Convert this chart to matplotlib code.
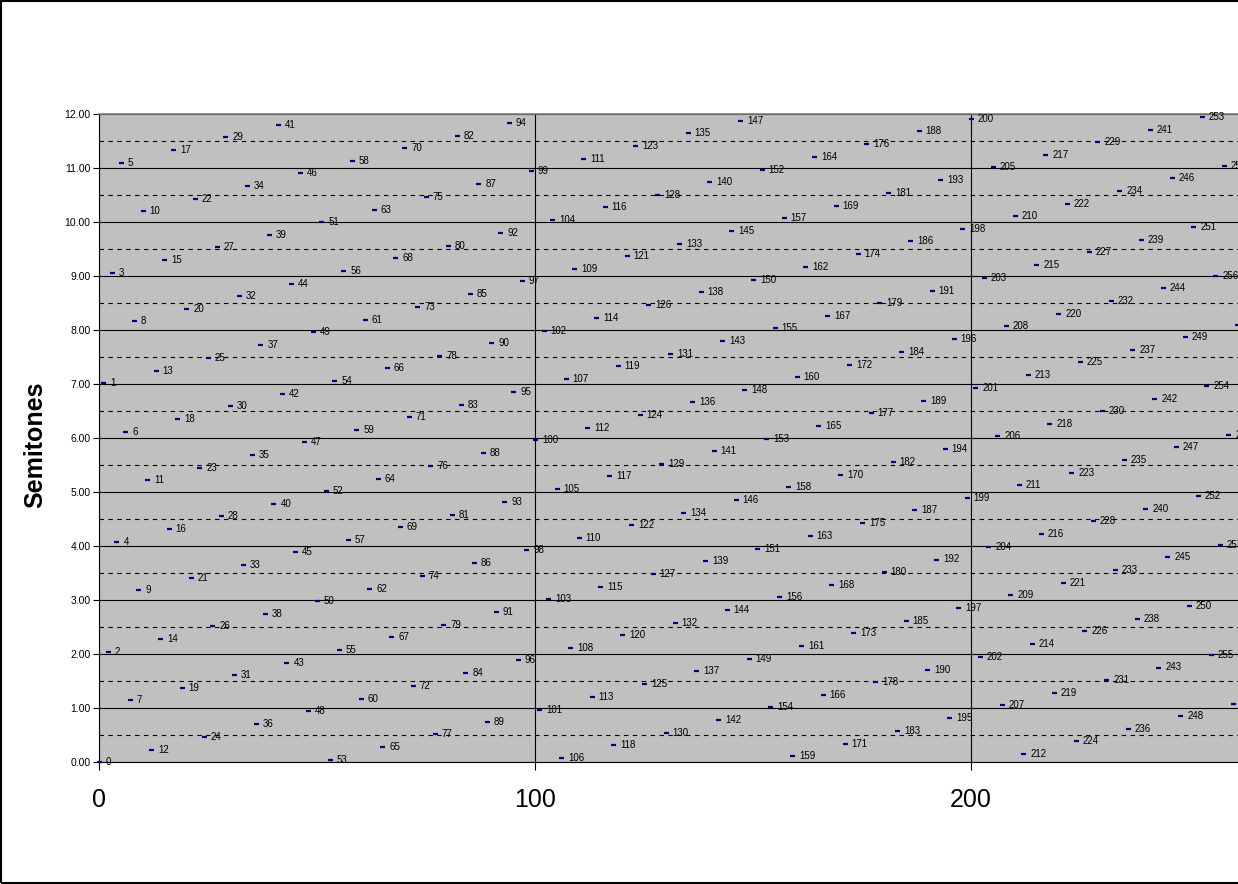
import numpy as np
import matplotlib
matplotlib.use('Agg')
import matplotlib.pyplot as plt
from matplotlib.patches import Rectangle

plt.rcParams['font.family'] = ['Liberation Sans', 'DejaVu Sans']

# step number of each point (label) and its position in semitones
steps = list(range(262))
semitones = [
    0.00, 7.02, 2.04, 9.06, 4.08, 11.10, 6.12, 1.14, 8.16, 3.18, 10.20, 5.22,
    0.23, 7.25, 2.27, 9.29, 4.31, 11.33, 6.35, 1.37, 8.39, 3.41, 10.43, 5.45,
    0.47, 7.49, 2.51, 9.53, 4.55, 11.57, 6.59, 1.61, 8.63, 3.65, 10.66, 5.68,
    0.70, 7.72, 2.74, 9.76, 4.78, 11.80, 6.82, 1.84, 8.86, 3.88, 10.90, 5.92,
    0.94, 7.96, 2.98, 10.00, 5.02, 0.04, 7.06, 2.08, 9.09, 4.11, 11.13, 6.15,
    1.17, 8.19, 3.21, 10.23, 5.25, 0.27, 7.29, 2.31, 9.33, 4.35, 11.37, 6.39,
    1.41, 8.43, 3.45, 10.47, 5.49, 0.51, 7.52, 2.54, 9.56, 4.58, 11.60, 6.62,
    1.64, 8.66, 3.68, 10.70, 5.72, 0.74, 7.76, 2.78, 9.80, 4.82, 11.84, 6.86,
    1.88, 8.90, 3.92, 10.94, 5.96, 0.97, 7.99, 3.01, 10.03, 5.05, 0.07, 7.09,
    2.11, 9.13, 4.15, 11.17, 6.19, 1.21, 8.23, 3.25, 10.27, 5.29, 0.31, 7.33,
    2.35, 9.37, 4.39, 11.40, 6.42, 1.44, 8.46, 3.48, 10.50, 5.52, 0.54, 7.56,
    2.58, 9.60, 4.62, 11.64, 6.66, 1.68, 8.70, 3.72, 10.74, 5.76, 0.78, 7.80,
    2.82, 9.83, 4.85, 11.87, 6.89, 1.91, 8.93, 3.95, 10.97, 5.99, 1.01, 8.03,
    3.05, 10.07, 5.09, 0.11, 7.13, 2.15, 9.17, 4.19, 11.21, 6.23, 1.25, 8.26,
    3.28, 10.30, 5.32, 0.34, 7.36, 2.38, 9.40, 4.42, 11.44, 6.46, 1.48, 8.50,
    3.52, 10.54, 5.56, 0.58, 7.60, 2.62, 9.64, 4.66, 11.68, 6.69, 1.71, 8.73,
    3.75, 10.77, 5.79, 0.81, 7.83, 2.85, 9.87, 4.89, 11.91, 6.93, 1.95, 8.97,
    3.99, 11.01, 6.03, 1.05, 8.07, 3.09, 10.11, 5.13, 0.14, 7.16, 2.18, 9.20,
    4.22, 11.24, 6.26, 1.28, 8.30, 3.32, 10.34, 5.36, 0.38, 7.40, 2.42, 9.44,
    4.46, 11.48, 6.50, 1.52, 8.54, 3.56, 10.57, 5.59, 0.61, 7.63, 2.65, 9.67,
    4.69, 11.71, 6.73, 1.75, 8.77, 3.79, 10.81, 5.83, 0.85, 7.87, 2.89, 9.91,
    4.93, 11.95, 6.97, 1.99, 9.00, 4.02, 11.04, 6.06, 1.08, 8.10,
]
x_ticks = [0, 100, 200, 300]
y_ticks = list(range(13))

fig = plt.figure(figsize=(12.38, 8.84), dpi=100)
# plot area runs past the right edge of the picture, like the original
ax = fig.add_axes([99 / 1238, 122 / 884, 1308 / 1238, 648 / 884])
ax.set_facecolor('#C0C0C0')

ax.plot(steps, semitones, linestyle='none', marker='_', ms=3.6, mew=1.6,
        color='#000080', clip_on=False, zorder=3)
for s, v in zip(steps, semitones):
    ax.annotate(str(s), (s, v), xytext=(5, 0), textcoords='offset points',
                fontsize=7, va='center', ha='left', zorder=4)

ax.set_xlim(0, 300)
ax.set_ylim(0, 12)
ax.set_xticks(x_ticks)
ax.set_xticklabels([str(t) for t in x_ticks], fontsize=18)
ax.set_yticks(y_ticks)
ax.set_yticklabels(['%.2f' % t for t in y_ticks], fontsize=7.5)
ax.set_yticks(np.arange(0.5, 12, 1), minor=True)
ax.tick_params(axis='x', length=6, width=0.8, pad=13, color='black')
ax.tick_params(axis='y', which='major', length=4, width=0.8, pad=2, color='black')
ax.tick_params(axis='y', which='minor', length=0)

ax.set_axisbelow(True)
ax.yaxis.grid(True, which='major', color='black', lw=0.8, ls='-')
ax.yaxis.grid(True, which='minor', color='black', lw=0.8, ls=(0, (4, 4)))
ax.xaxis.grid(True, which='major', color='black', lw=0.8, ls='-')

ax.spines['top'].set_color('#808080')
ax.spines['top'].set_linewidth(1.2)
ax.spines['left'].set_linewidth(0.8)
ax.spines['bottom'].set_linewidth(0.8)
ax.spines['right'].set_visible(False)

fig.text(35 / 1238, 0.497, 'Semitones', rotation=90, ha='center', va='center',
         fontsize=18, fontweight='bold')

# chart border (right side is cut off in the original)
fig.add_artist(Rectangle((1 / 1238, 1.5 / 884), 2, 1 - 2.5 / 884,
                         transform=fig.transFigure, fill=False,
                         ec='black', lw=1.5))

fig.savefig('out.png', dpi=100)
